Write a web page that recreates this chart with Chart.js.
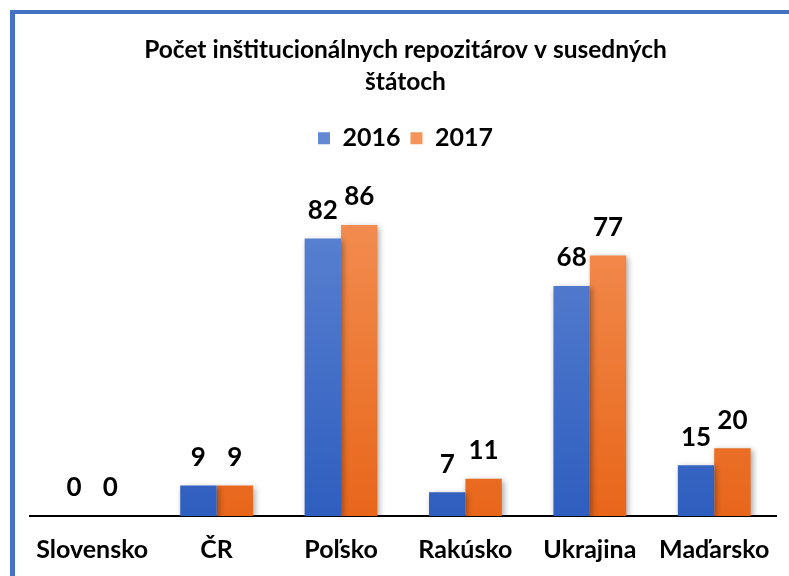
<!DOCTYPE html>
<html>
<head>
<meta charset="utf-8">
<script src="https://cdn.jsdelivr.net/npm/chart.js@4.4.1/dist/chart.umd.min.js"></script>
<style>
  html, body { margin: 0; padding: 0; background: #fff; }
  #wrap { position: relative; width: 789px; height: 576px; overflow: hidden; }
  #frame { position: absolute; left: 10px; top: 10px; right: -10px; bottom: -10px;
           border-top: 4px solid #4472C4; border-left: 5px solid #4472C4; }
  canvas { position: absolute; left: 0; top: 0; }
</style>
</head>
<body>
<div id="wrap">
  <div id="frame"></div>
  <canvas id="repoChart" width="789" height="576"></canvas>
</div>
<script>
var krajiny = ['Slovensko', 'ČR', 'Poľsko', 'Rakúsko', 'Ukrajina', 'Maďarsko'];
var roky = ['2016', '2017'];
var hodnoty2016 = [0, 9, 82, 7, 68, 15];
var hodnoty2017 = [0, 9, 86, 11, 77, 20];

var pismo = 'Lato, "Open Sans", sans-serif';

function gradient(ctx, top, bottom) {
    var area = ctx.chart.chartArea;
    if (!area) return bottom;
    var g = ctx.chart.ctx.createLinearGradient(0, area.top, 0, area.bottom);
    g.addColorStop(0, top);
    g.addColorStop(1, bottom);
    return g;
}

// cisla nad stlpcami
var popisky = {
    id: 'popisky',
    afterDatasetsDraw: function (chart) {
        var c = chart.ctx;
        c.save();
        c.font = 'bold 26px ' + pismo;
        c.fillStyle = '#000';
        c.textAlign = 'center';
        c.textBaseline = 'bottom';
        chart.data.datasets.forEach(function (ds, i) {
            chart.getDatasetMeta(i).data.forEach(function (bar, j) {
                c.fillText(ds.data[j], bar.x, bar.y - 15);
            });
        });
        c.restore();
    }
};

// jemny tien pod stlpcami
var tien = {
    id: 'tien',
    beforeDatasetsDraw: function (chart) {
        var c = chart.ctx;
        c.save();
        c.shadowColor = 'rgba(0,0,0,0.35)';
        c.shadowBlur = 6;
        c.shadowOffsetX = 2;
        c.shadowOffsetY = 2;
    },
    afterDatasetsDraw: function (chart) {
        chart.ctx.restore();
    }
};

var ctx = document.getElementById('repoChart').getContext('2d');
var repoChart = new Chart(ctx, {
    type: 'bar',
    data: {
        labels: krajiny,
        datasets: [{
            label: roky[0],
            data: hodnoty2016,
            backgroundColor: function (c) { return gradient(c, '#6388D4', '#2E5EBF'); },
            borderWidth: 0
        }, {
            label: roky[1],
            data: hodnoty2017,
            backgroundColor: function (c) { return gradient(c, '#F4945A', '#E8661A'); },
            borderWidth: 0
        }]
    },
    options: {
        responsive: false,
        animation: false,
        layout: { padding: { left: 30, right: 8, top: 0, bottom: 0 } },
        datasets: { bar: { categoryPercentage: 0.585, barPercentage: 1.0 } },
        plugins: {
            title: {
                display: true,
                text: ['Počet inštitucionálnych repozitárov v susedných', 'štátoch'],
                color: '#000',
                font: { family: pismo, size: 24.5, weight: 'bold', lineHeight: 1.3 },
                padding: { top: 34, bottom: 18 }
            },
            legend: {
                position: 'top',
                labels: {
                    color: '#000',
                    font: { family: pismo, size: 25, weight: 'bold' },
                    boxWidth: 12,
                    boxHeight: 12,
                    padding: 10
                }
            },
            tooltip: { enabled: false }
        },
        scales: {
            x: {
                grid: { display: false, drawTicks: false },
                border: { display: true, color: '#000', width: 2 },
                ticks: { color: '#000', font: { family: pismo, size: 25, weight: 'bold' }, padding: 19 },
                afterFit: function (scale) { scale.height = 60; }
            },
            y: {
                display: false,
                min: 0,
                max: 105
            }
        }
    },
    plugins: [tien, popisky]
});
</script>
</body>
</html>
